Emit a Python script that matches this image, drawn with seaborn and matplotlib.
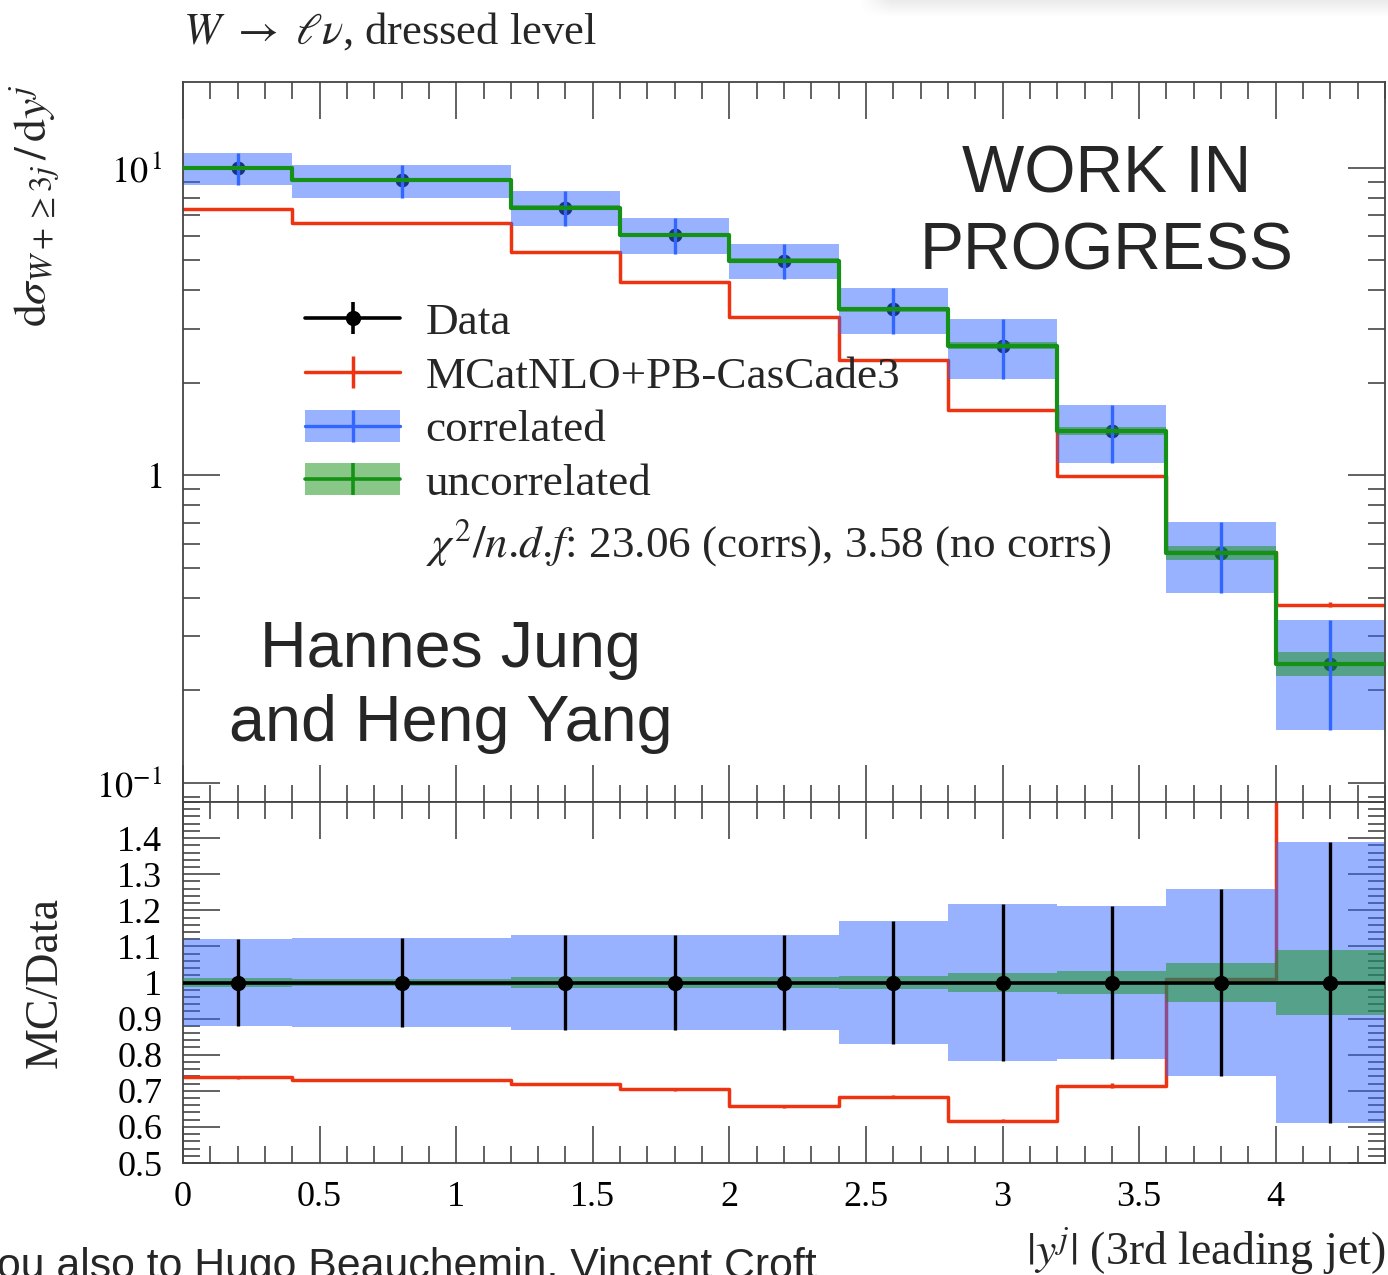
import numpy as np
import matplotlib
matplotlib.use("Agg")
import matplotlib.pyplot as plt
from matplotlib.lines import Line2D
from matplotlib.patches import Patch
from matplotlib.ticker import (FixedLocator, MultipleLocator, LogLocator,
                               NullFormatter, FuncFormatter)
import seaborn as sns

# |y| of the third leading jet: bin edges
bin_edges = [0.0, 0.4, 1.2, 1.6, 2.0, 2.4, 2.8, 3.2, 3.6, 4.0, 4.4]
# unfolded differential cross section per bin
data_xsec = [10.0, 9.09, 7.42, 6.05, 4.99, 3.47, 2.64, 1.394, 0.560, 0.244]
# relative uncertainties: correlated and uncorrelated treatment
corr_unc = [0.120, 0.123, 0.131, 0.131, 0.131, 0.169, 0.218, 0.213, 0.258, 0.390]
uncorr_unc = [0.013, 0.010, 0.016, 0.016, 0.016, 0.019, 0.025, 0.033, 0.053, 0.090]
# MCatNLO+PB-CasCade3 prediction and its relative statistical uncertainty
mc_xsec = [7.37, 6.63, 5.33, 4.26, 3.28, 2.37, 1.63, 0.995, 0.565, 0.380]
mc_unc = [0.004, 0.004, 0.005, 0.005, 0.006, 0.006, 0.008, 0.010, 0.012, 0.020]

chi2_corr = 23.06
chi2_nocorr = 3.58

x_ticks = [0, 0.5, 1, 1.5, 2, 2.5, 3, 3.5, 4]
main_ticks = [0.1, 1, 10]
main_tick_labels = [r"$10^{-1}$", r"$1$", r"$10^{\,1}$"]
ratio_ticks = [0.5, 0.6, 0.7, 0.8, 0.9, 1.0, 1.1, 1.2, 1.3, 1.4]

BLUE = "#3366ff"
GREEN = "#159115"
RED = "#ee3311"

sns.set_theme(style="ticks")
plt.rcParams.update({
    "font.family": ["Liberation Serif", "DejaVu Serif"],
    "mathtext.fontset": "stix",
    "axes.edgecolor": "#444444",
    "axes.linewidth": 1.3,
    "xtick.color": "#555555",
    "ytick.color": "#555555",
    "xtick.labelcolor": "black",
    "ytick.labelcolor": "black",
})

W, H = 1388, 1275
fig = plt.figure(figsize=(W / 100, H / 100), dpi=100)
fig.patch.set_facecolor("white")

L, R = 183 / W, 1385 / W
y_top, y_mid, y_bot = 1 - 82 / H, 1 - 802 / H, 1 - 1163 / H
ax1 = fig.add_axes([L, y_mid, R - L, y_top - y_mid])
ax2 = fig.add_axes([L, y_bot, R - L, y_mid - y_bot], sharex=ax1)

edges = np.array(bin_edges)
centers = 0.5 * (edges[:-1] + edges[1:])
data = np.array(data_xsec)
mc = np.array(mc_xsec)
corr = np.array(corr_unc)
uncorr = np.array(uncorr_unc)
mcu = np.array(mc_unc)


def ext(v):
    return np.append(v, v[-1])


# ---------------- main panel ----------------
sns.scatterplot(x=centers, y=data, ax=ax1, color="black", s=100,
                linewidth=0, zorder=1)
sns.lineplot(x=edges, y=ext(mc), ax=ax1, color=RED, linewidth=2.5,
             drawstyle="steps-post", zorder=1.5)
ax1.errorbar(centers, mc, yerr=mc * mcu, fmt="none", ecolor=RED,
             elinewidth=2.5, capsize=0, zorder=1.5)
ax1.fill_between(edges, ext(data * (1 - corr)), ext(data * (1 + corr)),
                 step="post", color=BLUE, alpha=0.5, linewidth=0, zorder=2)
ax1.fill_between(edges, ext(data * (1 - uncorr)), ext(data * (1 + uncorr)),
                 step="post", color=GREEN, alpha=0.5, linewidth=0, zorder=2.5)
ax1.errorbar(centers, data, yerr=data * corr, fmt="none", ecolor=BLUE,
             elinewidth=2.4, capsize=0, zorder=3)
sns.lineplot(x=edges, y=ext(data), ax=ax1, color=GREEN, linewidth=3.0,
             drawstyle="steps-post", zorder=4)

ax1.set_yscale("log")
ax1.set_xlim(0, 4.4)
ax1.set_ylim(0.0867, 19.0)
ax1.yaxis.set_major_locator(FixedLocator(main_ticks))
ax1.yaxis.set_major_formatter(
    FuncFormatter(lambda v, p: dict(zip(main_ticks, main_tick_labels)).get(
        min(main_ticks, key=lambda t: abs(np.log10(t) - np.log10(v))), "")))
ax1.yaxis.set_minor_locator(LogLocator(base=10, subs=np.arange(2, 10), numticks=50))
ax1.yaxis.set_minor_formatter(NullFormatter())
ax1.tick_params(labelbottom=False)

# ---------------- ratio panel ----------------
ratio_mc = mc / data
sns.lineplot(x=edges, y=ext(ratio_mc), ax=ax2, color=RED, linewidth=2.5,
             drawstyle="steps-post", zorder=1)
ax2.errorbar(centers, ratio_mc, yerr=ratio_mc * mcu, fmt="none", ecolor=RED,
             elinewidth=2.5, capsize=0, zorder=1)
ax2.fill_between(edges, ext(1 - corr), ext(1 + corr), step="post",
                 color=BLUE, alpha=0.5, linewidth=0, zorder=2)
ax2.fill_between(edges, ext(1 - uncorr), ext(1 + uncorr), step="post",
                 color=GREEN, alpha=0.5, linewidth=0, zorder=3)
sns.lineplot(x=edges, y=ext(data / data), ax=ax2, color="black", linewidth=2.6,
             drawstyle="steps-post", zorder=4)
ax2.errorbar(centers, data / data, yerr=corr, fmt="o", color="black", ms=10,
             elinewidth=2.4, capsize=0, zorder=5)

ax2.set_ylim(0.5, 1.5)
ax2.yaxis.set_major_locator(FixedLocator(ratio_ticks))
ax2.yaxis.set_major_formatter(FuncFormatter(lambda v, p: f"{v:g}"))
ax2.yaxis.set_minor_locator(MultipleLocator(0.02))
ax2.xaxis.set_major_locator(FixedLocator(x_ticks))
ax2.xaxis.set_minor_locator(MultipleLocator(0.1))
ax2.xaxis.set_major_formatter(FuncFormatter(lambda v, p: f"{v:g}"))

for ax in (ax1, ax2):
    ax.set_xlabel("")
    ax.set_ylabel("")
    ax.tick_params(which="both", direction="in", top=True, right=True,
                   width=1.3, labelsize=26)
    ax.tick_params(which="major", length=26.5)
    ax.tick_params(which="minor", length=12.3)
    ax.tick_params(axis="y", pad=15)
    ax.tick_params(axis="x", pad=13)
    for s in ax.spines.values():
        s.set_linewidth(1.3)
        s.set_color("#444444")

# ---------------- legend ----------------
handles = [
    (Line2D([], [], color="black", lw=2.6),
     Line2D([], [], color="black", marker="|", ms=23, mew=2.6, ls="none"),
     Line2D([], [], color="black", marker="o", ms=10, ls="none")),
    (Line2D([], [], color=RED, lw=2.5),
     Line2D([], [], color=RED, marker="|", ms=23, mew=2.5, ls="none")),
    (Patch(facecolor=BLUE, alpha=0.5, lw=0),
     Line2D([], [], color=BLUE, lw=2.4),
     Line2D([], [], color=BLUE, marker="|", ms=23, mew=2.4, ls="none")),
    (Patch(facecolor=GREEN, alpha=0.5, lw=0),
     Line2D([], [], color=GREEN, lw=2.6),
     Line2D([], [], color=GREEN, marker="|", ms=23, mew=2.6, ls="none")),
    Line2D([], [], alpha=0),
]
labels = ["Data", "MCatNLO+PB-CasCade3", "correlated", "uncorrelated",
          r"$\chi^2/n$.$d$.$f$: "
          + f"{chi2_corr:.2f} (corrs), {chi2_nocorr:.2f} (no corrs)"]
ax1.legend(handles, labels, loc="upper left",
           bbox_to_anchor=((305 - 183) / 1202, (802 - 302) / 720),
           frameon=False, fontsize=32.5, borderpad=0, borderaxespad=0,
           handlelength=2.11, handletextpad=0.56, handleheight=0.71,
           labelspacing=0.29)

# ---------------- text ----------------
fig.text(183 / W, 1 - 32 / H, r"$W\ \rightarrow\ \ell\nu$, dressed level",
         ha="left", va="center", fontsize=32)
fig.text(35 / W, 1 - 84 / H, r"$\mathrm{d}\sigma_{W+\geq 3j}\,/\,\mathrm{d}y^j$",
         rotation=90, ha="center", va="top", fontsize=33)
fig.text(45 / W, 1 - 982 / H, "MC/Data", rotation=90, ha="center",
         va="center", fontsize=33)
fig.text(1385 / W, 1 - 1250 / H, r"$|y^j|$ (3rd leading jet)", ha="right",
         va="center", fontsize=33)

fig.text(1107 / W, 1 - 214 / H, "WORK IN\nPROGRESS", ha="center", va="center",
         fontsize=47.5, family="Liberation Sans", linespacing=1.3)
fig.text(451 / W, 1 - 687 / H, "Hannes Jung\nand Heng Yang", ha="center",
         va="center", fontsize=46.5, family="Liberation Sans", linespacing=1.3)
fig.text(-3 / W, -3 / H, "ou also to Hugo Beauchemin, Vincent Croft",
         ha="left", va="baseline", fontsize=30.8, family="Liberation Sans")

# soft grey page shadow along the top right edge
sh = fig.add_axes([860 / W, 1 - 40 / H, (W - 860) / W, 40 / H])
sh.set_axis_off()
yy, xx = np.mgrid[0:40, 0:W - 860]
alpha = 0.14 * np.clip(1 - yy / 16.0, 0, 1) * np.clip(xx / 30.0, 0, 1)
rgba = np.zeros((40, W - 860, 4))
rgba[..., :3] = 0.45
rgba[..., 3] = alpha
sh.imshow(rgba, aspect="auto", extent=(0, 1, 0, 1), interpolation="bilinear")

fig.savefig("out.png", dpi=100)
